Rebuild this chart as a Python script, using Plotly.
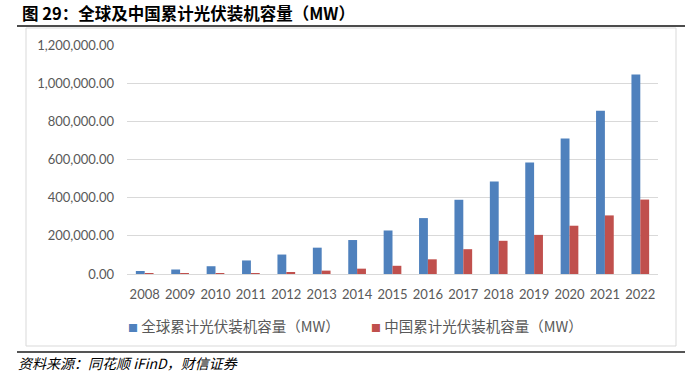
import plotly.graph_objects as go

years = ["2008", "2009", "2010", "2011", "2012", "2013", "2014", "2015",
         "2016", "2017", "2018", "2019", "2020", "2021", "2022"]
global_mw = [15800, 23600, 40700, 71000, 102000, 138000, 178000, 228000,
             293000, 389000, 485000, 584000, 710000, 855000, 1045000]
china_mw = [140, 300, 800, 3300, 6700, 17700, 28000, 43000,
            77000, 130000, 174000, 205000, 253000, 307000, 390000]
tick_vals = [0, 200000, 400000, 600000, 800000, 1000000, 1200000]
tick_text = ["0.00", "200,000.00", "400,000.00", "600,000.00",
             "800,000.00", "1,000,000.00", "1,200,000.00"]
names = ["全球累计光伏装机容量（MW）", "中国累计光伏装机容量（MW）"]
colors = ["#4F81BD", "#C0504D"]

W, H = 685, 373
L, R, T, B = 127, 658, 45, 274
pw, ph = R - L, B - T


def px(x):
    return (x - L) / pw


def py(y):
    return (B - y) / ph


fig = go.Figure()
fig.add_bar(x=years, y=global_mw, name=names[0],
            marker=dict(color=colors[0], line=dict(width=0)))
fig.add_bar(x=years, y=china_mw, name=names[1],
            marker=dict(color=colors[1], line=dict(width=0)))

tick_font = dict(family="Lato, 'Noto Sans CJK SC', sans-serif", size=13, color="#595959")

fig.update_layout(
    width=W, height=H,
    margin=dict(l=L, r=W - R, t=T, b=H - B),
    paper_bgcolor="white", plot_bgcolor="white",
    barmode="group", bargap=0.5, bargroupgap=0,
    showlegend=False,
    xaxis=dict(type="category", showgrid=False, showline=True, linecolor="#d9d9d9",
               linewidth=1, ticks="", tickfont=tick_font, ticklabelstandoff=8),
    yaxis=dict(range=[0, 1200000], tickvals=tick_vals, ticktext=tick_text,
               showgrid=True, gridcolor="#d9d9d9", gridwidth=1, zeroline=False,
               showline=False, ticks="", tickfont=tick_font, ticklabelstandoff=12),
    font=dict(family="'Noto Sans CJK SC', sans-serif"),
)

shapes = [
    dict(type="line", xref="paper", yref="paper", x0=px(17), x1=px(685), y0=py(26), y1=py(26),
         line=dict(color="#111111", width=1.5)),
    dict(type="rect", xref="paper", yref="paper", x0=px(26), x1=px(676), y0=py(28), y1=py(346),
         line=dict(color="#d9d9d9", width=1), layer="below"),
    dict(type="line", xref="paper", yref="paper", x0=px(17), x1=px(685), y0=py(352), y1=py(352),
         line=dict(color="#555555", width=2)),
]
fig.update_layout(shapes=shapes)

# legend drawn as text entries
legend_x = [126, 369]
for nm, col, lx in zip(names, colors, legend_x):
    fig.add_annotation(
        text=f"<span style='color:{col};font-size:10px'>■</span> {nm}", xref="paper", yref="paper",
        x=px(lx), y=py(325), xanchor="left", yanchor="middle", showarrow=False,
        font=dict(family="'Noto Sans CJK SC', sans-serif", size=14.5, color="#595959"))

fig.add_annotation(text="<b>图 29：全球及中国累计光伏装机容量（MW）</b>", xref="paper", yref="paper",
                   x=px(20), y=py(13), xanchor="left", yanchor="middle", showarrow=False,
                   font=dict(family="'Noto Sans CJK SC', serif", size=16.5, color="#000000"))
fig.add_annotation(text="<i>资料来源：同花顺 iFinD，财信证券</i>", xref="paper", yref="paper",
                   x=px(16), y=py(363), xanchor="left", yanchor="middle", showarrow=False,
                   font=dict(family="'Noto Sans CJK SC', serif", size=14, color="#000000"))

fig.write_html("out.html", config={"displayModeBar": False},
               post_script="document.body.style.margin='0';document.body.style.overflow='hidden';")
